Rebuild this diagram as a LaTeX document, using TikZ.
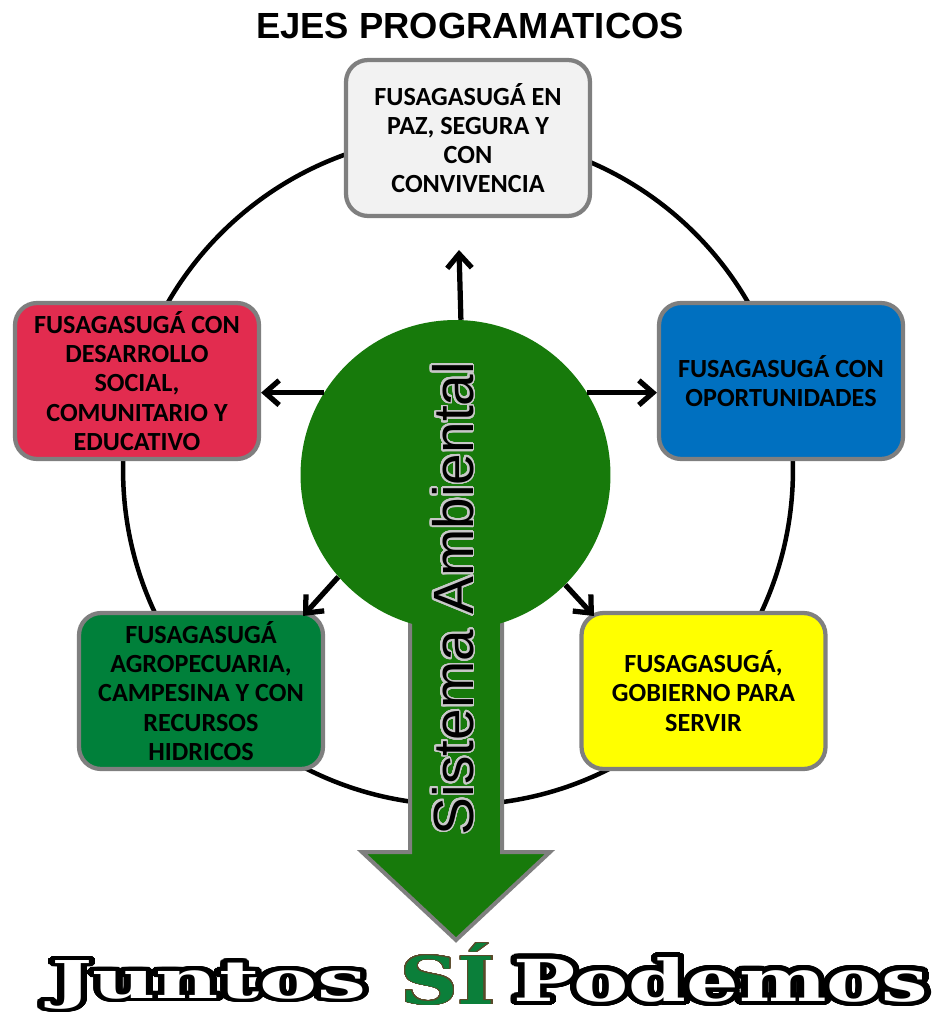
\documentclass[tikz,border=0pt]{standalone}
\usepackage{fontspec}
\setmainfont{Carlito}
\newfontfamily\arialfont{Liberation Sans}
\newfontfamily\heavyserif{DejaVu Serif}
\usepackage{graphicx}
\usepackage{contour}
\contournumber{48}
\usetikzlibrary{arrows.meta,calc}
\definecolor{bordergray}{HTML}{7F7F7F}
\definecolor{envgreen}{HTML}{177A0B}
\definecolor{topfill}{HTML}{F2F2F2}
\definecolor{redfill}{HTML}{E22C4F}
\definecolor{bluefill}{HTML}{0070C0}
\definecolor{greenfill}{HTML}{00803A}
\definecolor{yellowfill}{HTML}{FFFF00}
\definecolor{sigreen}{HTML}{0B7F3A}
\definecolor{sibrown}{HTML}{5A4A2A}
\definecolor{outlinegray}{HTML}{C8C8C8}
\begin{document}
\begin{tikzpicture}[x=0.02cm,y=-0.02cm,
  eje/.style={draw=bordergray, line width=0.085cm, rounded corners=0.44cm,
    minimum width=4.88cm, minimum height=3.12cm, inner sep=0pt, align=center,
    text=black, font=\bfseries\fontsize{14.9}{16.6}\selectfont},
  link/.style={line width=0.105cm, -{Straight Barb[length=8pt,width=14pt]}},
  ring/.style={draw=black, line width=0.09cm, circle, minimum size=13.4cm, inner sep=0pt},
]
\useasboundingbox (0,0) rectangle (937,1013);
% title
\node[font=\arialfont\bfseries\fontsize{20.7}{24}\selectfont, anchor=base, inner sep=0pt] (title) at (470,39) {EJES PROGRAMATICOS};
% ring
\node[ring] (ring) at (458,470) {};
% boxes
\node[eje, fill=topfill] (paz) at (468,138) {FUSAGASUGÁ EN\\PAZ, SEGURA Y\\CON\\CONVIVENCIA};
\node[eje, fill=redfill] (social) at (137,381) {FUSAGASUGÁ CON\\DESARROLLO\\SOCIAL,\\COMUNITARIO Y\\EDUCATIVO};
\node[eje, fill=bluefill] (opor) at (781,381) {FUSAGASUGÁ CON\\OPORTUNIDADES};
\node[eje, fill=greenfill] (agro) at (201,691) {FUSAGASUGÁ\\AGROPECUARIA,\\CAMPESINA Y CON\\RECURSOS\\HIDRICOS};
\node[eje, fill=yellowfill] (gob) at (703.5,691) {FUSAGASUGÁ,\\GOBIERNO PARA\\SERVIR};
% big arrow
\draw[draw=bordergray, line width=0.08cm, fill=envgreen, line join=miter]
  (410,560) -- (410,852) -- (362,852) -- (456,940) -- (550,852) -- (502,852) -- (502,560) -- cycle;
% central circle
\node[circle, fill=envgreen, minimum size=6.2cm, inner sep=0pt] (env) at (455.5,475) {};
% connectors
\coordinate (up) at (459,250);
\coordinate (dl) at (303,616);
\coordinate (dr) at (594,616);
\draw[link] (env.88) -- (up);
\draw[link] (env.148) -- (env.148 -| social.east);
\draw[link] (env.32) -- (env.32 -| opor.west);
\draw[link] (env.221) -- (dl);
\draw[link] (env.315) -- (dr);
% vertical label
\node[rotate=90, anchor=base, inner sep=0pt, font=\arialfont\fontsize{32.3}{36}\selectfont] (sis) at (473,598.5)
  {\contourlength{1pt}\color{black}\contour{outlinegray}{Sistema Ambiental}};
% slogan
\node[anchor=base west, inner sep=0pt] (juntos) at (51,998)
  {\resizebox{6.3cm}{0.76cm}{\heavyserif\bfseries\fontsize{29}{34}\selectfont\contourlength{2.2pt}\color{white}\contour{black}{Juntos}}};
\node[anchor=base west, inner sep=0pt] (si) at (400,1004)
  {\resizebox{1.9cm}{1.22cm}{\heavyserif\bfseries\fontsize{29}{34}\selectfont\contourlength{0.4pt}\color{sigreen}\contour{sibrown}{SÍ}}};
\node[anchor=base west, inner sep=0pt] (podemos) at (513,1001)
  {\resizebox{8.3cm}{0.88cm}{\heavyserif\bfseries\fontsize{29}{34}\selectfont\contourlength{2.2pt}\color{white}\contour{black}{Podemos}}};
\end{tikzpicture}
\end{document}
